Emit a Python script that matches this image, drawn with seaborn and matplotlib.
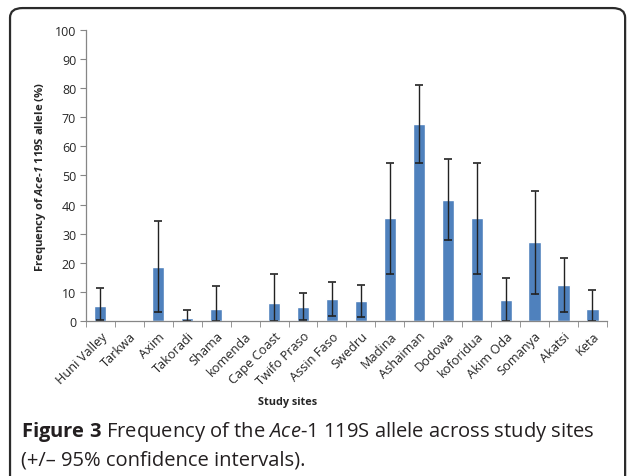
import numpy as np
import pandas as pd
import matplotlib
matplotlib.use("Agg")
import matplotlib.pyplot as plt
from matplotlib.patches import FancyBboxPatch
import seaborn as sns

# 数据：各研究地点的 Ace-1 119S 等位基因频率及 95% 置信区间
sites = ['Huni Valley', 'Tarkwa', 'Axim', 'Takoradi', 'Shama', 'komenda',
         'Cape Coast', 'Twifo Praso', 'Assin Faso', 'Swedru', 'Madina',
         'Ashaiman', 'Dodowa', 'koforidua', 'Akim Oda', 'Somanya', 'Akatsi', 'Keta']
freq = [5.3, 0, 18.6, 0.9, 4.1, 0, 6.2, 4.8, 7.4, 6.7, 35.4,
        67.6, 41.5, 35.4, 7.2, 27.0, 12.4, 4.1]
ci_low = [0.3, 0, 3.1, 0, 0, 0, 0, 0.3, 1.6, 1.2, 16.1,
          54.4, 27.7, 16.1, 0, 9.3, 3.1, 0]
ci_high = [11.4, 0, 34.4, 3.8, 12.1, 0, 16.1, 9.7, 13.3, 12.4, 54.4,
           81.0, 55.5, 54.4, 14.6, 44.8, 21.8, 10.5]

df = pd.DataFrame({'site': sites, 'freq': freq})

sns.set_style('white')
plt.rcParams['font.family'] = ['Open Sans', 'DejaVu Sans']
plt.rcParams['mathtext.fontset'] = 'custom'
plt.rcParams['mathtext.rm'] = 'Open Sans'
plt.rcParams['mathtext.it'] = 'Open Sans:italic'
plt.rcParams['mathtext.bf'] = 'Open Sans:bold'
plt.rcParams['mathtext.bfit'] = 'Open Sans:italic:bold'

fig = plt.figure(figsize=(6.27, 4.77), dpi=100)
ax = fig.add_axes([0.137, 0.325, 0.831, 0.61])

sns.barplot(x='site', y='freq', data=df, color='#4F81BD', saturation=1,
            width=0.42, ax=ax, errorbar=None)

# 误差线
pos = np.arange(len(sites))
f = np.array(freq)
yerr = [f - np.array(ci_low), np.array(ci_high) - f]
show = np.array(ci_high) > 0
ax.errorbar(pos[show], f[show], yerr=[yerr[0][show], yerr[1][show]], fmt='none',
            ecolor='#222222', elinewidth=1.0, capsize=3, capthick=1.2)

ax.set_ylim(0, 100)
ax.set_xlim(-0.5, len(sites) - 0.5)
ax.set_yticks(range(0, 101, 10))
ax.tick_params(axis='y', labelsize=9, length=4, color='#868686', left=True, pad=3)
ax.set_xticks(pos)
ax.set_xticklabels(sites, rotation=45, ha='right', rotation_mode='anchor', fontsize=9.2)
ax.tick_params(axis='x', length=0, pad=6)
ax.set_xticks(np.arange(-0.5, len(sites), 1), minor=True)
ax.tick_params(axis='x', which='minor', length=4, color='#868686', bottom=True)
for s in ['top', 'right']:
    ax.spines[s].set_visible(False)
for s in ['left', 'bottom']:
    ax.spines[s].set_color('#868686')
    ax.spines[s].set_linewidth(0.9)

ax.set_ylabel(r'Frequency of $\mathbfit{Ace}$-$\mathbfit{1}$ 119S allele (%)',
              fontsize=8.2, fontweight='bold', labelpad=5)
ax.set_xlabel('')
fig.text(0.459, 0.157, 'Study sites', fontsize=7.8, fontweight='bold', ha='center', va='center')

# 图注
fig.text(0.034, 0.083, r'$\mathbf{Figure\ 3}$ Frequency of the $\mathit{Ace}$-$\mathit{1}$ 119S allele across study sites',
         fontsize=14.5, color='#231f20', ha='left', va='baseline')
fig.text(0.034, 0.025, '(+/\u2013 95% confidence intervals).',
         fontsize=14.5, color='#231f20', ha='left', va='baseline')

# 外框
box = FancyBboxPatch((0.016, -0.1), 0.981, 1.081, boxstyle='round,pad=0,rounding_size=0.02',
                     transform=fig.transFigure, fill=False, edgecolor='#2b2b2b', lw=1.6,
                     clip_on=False)
fig.patches.append(box)

plt.savefig('out.png', dpi=100)
